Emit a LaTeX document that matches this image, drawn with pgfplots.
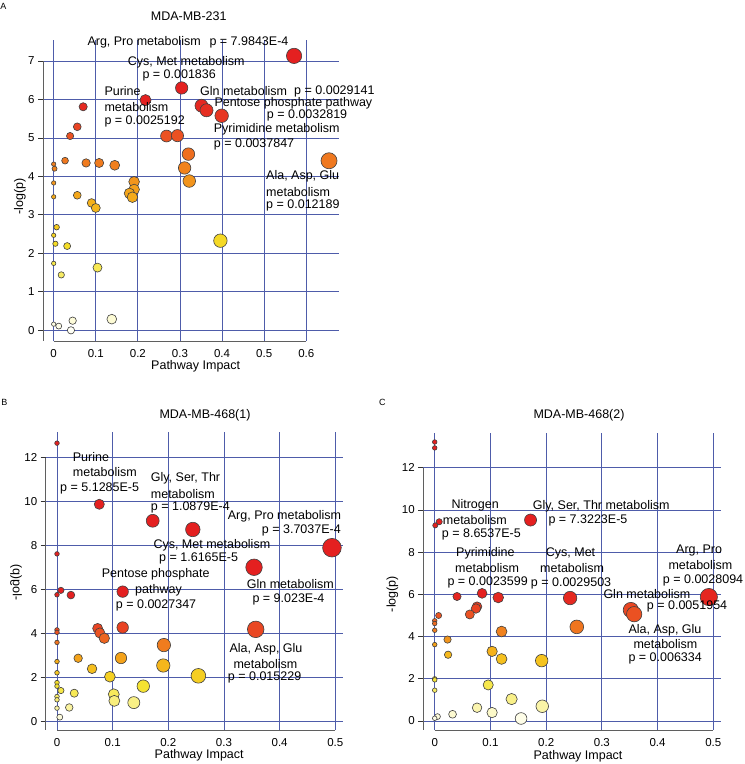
\documentclass[border=0pt]{standalone}
\usepackage{fontspec}
\setmainfont{Liberation Sans}
\usepackage{pgfplots}
\pgfplotsset{compat=1.18}
\usepackage{pgfplotstable}

\definecolor{gridblue}{RGB}{78,92,170}
\definecolor{spine}{RGB}{95,95,95}
\newcommand{\lf}{\fontsize{12.5}{15}\selectfont}

% -log(p) (natural log) against pathway impact, one table per panel
\pgfplotstableread{
x y
0.571 7.133
0.304 6.300
0.218 5.984
0.351 5.838
0.363 5.719
0.399 5.577
0.070 5.81
0.056 5.29
0.039 5.05
0.268 5.05
0.294 5.06
0.320 4.58
0.654 4.407
0.027 4.41
0.000 4.32
0.002 4.20
0.077 4.35
0.108 4.35
0.145 4.29
0.311 4.22
0.322 3.88
0.191 3.86
0.000 3.83
0.191 3.66
0.180 3.56
0.187 3.46
0.056 3.51
0.000 3.47
0.090 3.31
0.100 3.18
0.007 2.68
0.000 2.47
0.004 2.25
0.032 2.19
0.396 2.33
0.000 1.74
0.104 1.63
0.018 1.44
0.138 0.29
0.045 0.25
0.000 0.16
0.012 0.11
0.041 0.00
}\dataA

\pgfplotstableread{
x y
0.000 12.66
0.076 9.878
0.172 9.126
0.244 8.73
0.494 7.901
0.000 7.62
0.354 7.011
0.118 5.902
0.007 5.96
0.000 5.76
0.025 5.745
0.357 4.185
0.118 4.27
0.073 4.23
0.077 4.02
0.085 3.78
0.000 4.16
0.000 4.05
0.000 3.59
0.192 3.47
0.038 2.87
0.115 2.88
0.000 2.72
0.063 2.39
0.191 2.54
0.254 2.07
0.095 2.03
0.000 2.21
0.000 1.76
0.000 1.60
0.155 1.60
0.007 1.40
0.031 1.28
0.102 1.23
0.103 0.93
0.000 1.13
0.000 0.98
0.138 0.85
0.022 0.63
0.000 0.60
0.005 0.19
}\dataB

\pgfplotstableread{
x y
0.000 13.22
0.000 12.94
0.172 9.522
0.008 9.44
0.001 9.27
0.492 5.875
0.243 5.826
0.085 6.049
0.040 5.90
0.114 5.85
0.076 5.42
0.074 5.33
0.063 5.05
0.352 5.260
0.358 5.062
0.255 4.46
0.007 5.00
0.000 4.75
0.000 4.62
0.000 4.30
0.120 4.24
0.023 3.86
0.000 3.62
0.103 3.30
0.024 3.14
0.120 2.94
0.192 2.86
0.000 2.00
0.000 1.95
0.000 1.46
0.096 1.71
0.138 1.04
0.193 0.70
0.076 0.63
0.103 0.40
0.032 0.32
0.005 0.21
0.000 0.13
0.155 0.12
}\dataC

\pgfplotsset{
  colormap={heat}{rgb255(0pt)=(255,255,245) rgb255(12pt)=(250,244,165) rgb255(35pt)=(245,226,40) rgb255(56pt)=(245,175,25) rgb255(72pt)=(240,125,30) rgb255(86pt)=(234,75,35) rgb255(100pt)=(228,32,32)},
  panel/.style={
    scale only axis, anchor=south west, clip=false,
    axis line style={draw=none},
    xmajorgrids,
    tick align=outside, major tick length=5pt,
    ytick pos=left, xtick pos=bottom,
    xtick style={draw=none}, ytick style={line width=0.8pt, black!80},
    major x grid style={gridblue, line width=0.8pt},
    ticklabel style={font=\fontsize{11.5}{13}\selectfont},
    /pgf/number format/assume math mode=true,
    xticklabel style={/pgf/number format/fixed, /pgf/number format/precision=1},
    colormap name=heat, point meta min=0,
  },
  bubbles/.style 2 args={scatter, only marks, mark=*,
    point meta={min(\thisrow{y},#1)},
    scatter/use mapped color={draw=black!75, fill=mapped color},
    mark options={line width=0.6pt},
    visualization depends on={#2 \as \bsize},
    scatter/@pre marker code/.append style={/tikz/mark size=\bsize pt}},
}
% horizontal grid lines across the axis, drawn under the bubbles
\newcommand{\hgrid}[3]{\pgfplotsinvokeforeach{#3}{%
  \draw[gridblue, line width=0.8pt] (axis cs:#1,##1) -- (axis cs:#2,##1);}}

\begin{document}
\begin{tikzpicture}[x=1pt,y=1pt]
\useasboundingbox (0,0) rectangle (745,-764);

% ---------- A ----------
\begin{axis}[panel, at={(43pt,-341pt)}, width=296pt, height=301pt,
  xmin=-0.0254, xmax=0.6777, ymin=-0.278, ymax=7.546,
  xtick={0,0.1,...,0.6}, ytick={0,1,...,7}, point meta max=6]
\hgrid{-0.0254}{0.6777}{0,1,...,7}
\addplot[bubbles={6}{2.2+7.2*sqrt(\thisrow{x})}] table[x=x, y=y] {\dataA};
\end{axis}

% ---------- B ----------
\begin{axis}[panel, at={(45.7pt,-730pt)}, width=297pt, height=298.3pt,
  xmin=-0.0203, xmax=0.5133, ymin=-0.396, ymax=13.18,
  xtick={0,0.1,...,0.5}, ytick={0,2,...,12}, point meta max=4.8]
\hgrid{-0.0203}{0.5133}{0,2,...,12}
\addplot[bubbles={4.8}{2.3+10*sqrt(\thisrow{x})}] table[x=x, y=y] {\dataB};
\end{axis}

% ---------- C ----------
\begin{axis}[panel, at={(423.3pt,-730pt)}, width=297.4pt, height=297.3pt,
  xmin=-0.0205, xmax=0.5133, ymin=-0.426, ymax=13.66,
  xtick={0,0.1,...,0.5}, ytick={0,2,...,12}, point meta max=6]
\hgrid{-0.0205}{0.5133}{0,2,...,12}
\addplot[bubbles={6}{2.3+9*sqrt(\thisrow{x})}] table[x=x, y=y] {\dataC};
\end{axis}

% spines
\begin{scope}[spine, line width=0.9pt]
\draw (43,-61) -- (43,-341);       \draw (53.7,-341) -- (306.3,-341);
\draw (45.7,-457.7) -- (45.7,-730); \draw (57,-730) -- (335.3,-730);
\draw (423.3,-467.7) -- (423.3,-730); \draw (434.7,-730) -- (713.3,-730);
\end{scope}

% titles, panel letters, axis labels
\begin{scope}[every node/.style={font=\lf, inner sep=0pt}]
\node at (188.7,-15.7) {MDA-MB-231};
\node at (205,-415.7) {MDA-MB-468(1)};
\node at (579,-415.7) {MDA-MB-468(2)};
\node at (195.7,-366.7) {Pathway Impact};
\node at (199.2,-755.7) {Pathway Impact};
\node at (578,-756.7) {Pathway Impact};
\node[rotate=90] at (20,-196.5) {-log(p)};
\node[rotate=90, yscale=-1] at (16,-582.5) {-log(p)};
\node[rotate=90] at (392.5,-594) {-log(p)};
\node[font=\fontsize{9}{10}\selectfont] at (3.5,-6.7) {A};
\node[font=\fontsize{9}{10}\selectfont] at (4.5,-402.3) {B};
\node[font=\fontsize{9}{10}\selectfont] at (382.3,-402.3) {C};
\end{scope}

% pathway annotations
\begin{scope}[every node/.style={font=\lf, inner sep=0pt, anchor=west}]
\node at (87.3,-42.7) {Arg, Pro metabolism};
\node at (209.3,-42.7) {p = 7.9843E-4};
\node at (127.7,-62) {Cys, Met metabolism};
\node at (142.3,-75.3) {p = 0.001836};
\node at (104.3,-90.7) {Purine};
\node at (104.3,-107.3) {metabolism};
\node at (104.3,-121.7) {p = 0.0025192};
\node at (200,-91) {Gln metabolism};
\node at (294,-91) {p = 0.0029141};
\node at (214.3,-103.7) {Pentose phosphate pathway};
\node at (266.7,-115) {p = 0.0032819};
\node at (213.7,-129) {Pyrimidine metabolism};
\node at (213.7,-144.3) {p = 0.0037847};
\node at (266,-176.7) {Ala, Asp, Glu};
\node at (266,-191.7) {metabolism};
\node at (266,-205) {p = 0.012189};

\node at (72.7,-457.3) {Purine};
\node at (72.7,-472) {metabolism};
\node at (60,-488.3) {p = 5.1285E-5};
\node at (150.7,-478.7) {Gly, Ser, Thr};
\node at (150.7,-494) {metabolism};
\node at (150.7,-507.3) {p = 1.0879E-4};
\node at (227.7,-516) {Arg, Pro metabolism};
\node at (261.7,-530) {p = 3.7037E-4};
\node at (153.3,-545) {Cys, Met metabolism};
\node at (159,-558.7) {p = 1.6165E-5};
\node at (101.7,-574.3) {Pentose phosphate};
\node at (135,-590) {pathway};
\node at (115.7,-605) {p = 0.0027347};
\node at (246.7,-584) {Gln metabolism};
\node at (252.3,-599.3) {p = 9.023E-4};
\node at (229.3,-649.3) {Ala, Asp, Glu};
\node at (233.3,-664.3) {metabolism};
\node at (227.7,-677.3) {p = 0.015229};

\node at (451.3,-505) {Nitrogen};
\node at (442.7,-520.3) {metabolism};
\node at (441.7,-534) {p = 8.6537E-5};
\node at (532.7,-506) {Gly, Ser, Thr metabolism};
\node at (548.3,-520.7) {p = 7.3223E-5};
\node at (456,-553.3) {Pyrimidine};
\node at (455,-568.3) {metabolism};
\node at (447.3,-582) {p = 0.0023599};
\node at (545.7,-553.3) {Cys, Met};
\node at (540,-568.3) {metabolism};
\node at (530.7,-583.3) {p = 0.0029503};
\node at (676,-550) {Arg, Pro};
\node at (668.3,-565) {metabolism};
\node at (662.7,-580) {p = 0.0028094};
\node at (603.3,-594) {Gln metabolism};
\node at (646.7,-606.7) {p = 0.0051954};
\node at (628.3,-630) {Ala, Asp, Glu};
\node at (633.3,-644.3) {metabolism};
\node at (628.3,-658.3) {p = 0.006334};
\end{scope}
\end{tikzpicture}
\end{document}
